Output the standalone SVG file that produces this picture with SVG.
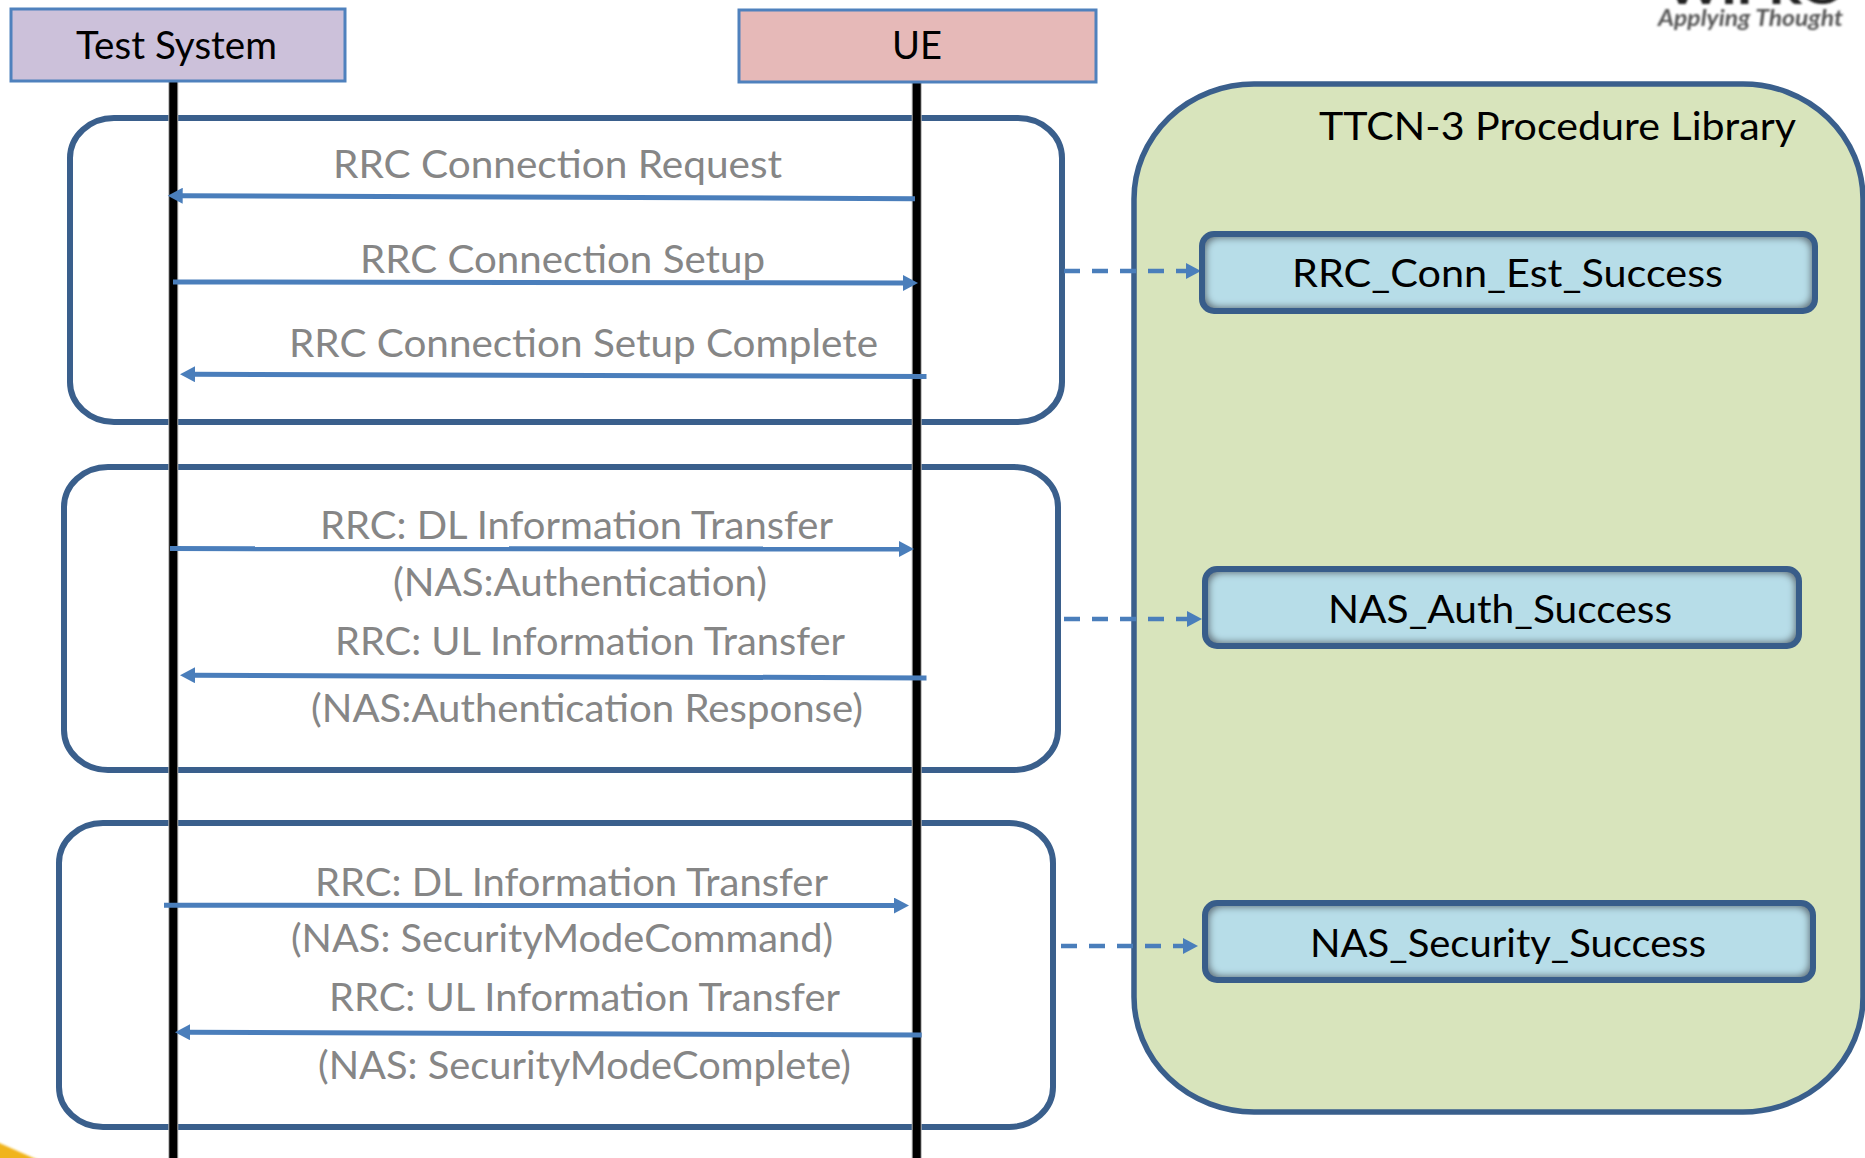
<svg xmlns="http://www.w3.org/2000/svg" width="1865" height="1158" viewBox="0 0 1865 1158">
<style>
text{font-family:"Lato","Open Sans","Liberation Sans",sans-serif;font-size:38px;}
.msg{fill:#868686;}
.blk{fill:#000;}
.grp{fill:none;stroke:#3a5f8c;stroke-width:6;}
.lib{fill:#d8e4bc;stroke:#3a5f8c;stroke-width:5.5;}
.proc{fill:#b7dde8;}
.procb{fill:none;stroke:#385d8a;stroke-width:6;}
.life{stroke:#000;stroke-width:8;fill:none;}
.arr{stroke:#4a7ebb;stroke-width:5;fill:none;marker-end:url(#tip);}
.dash{stroke:#4a7ebb;stroke-width:4.5;fill:none;stroke-dasharray:16 12;marker-end:url(#tip);}
</style>
<defs>
<marker id="tip" markerUnits="userSpaceOnUse" markerWidth="16" markerHeight="16" viewBox="0 0 15 16" refX="1" refY="8" orient="auto">
<path d="M0 0L15 8L0 16Z" fill="#4a7ebb"/>
</marker>
<filter id="inner" x="-5%" y="-15%" width="110%" height="130%">
<feMorphology in="SourceAlpha" operator="erode" radius="5" result="e"/>
<feGaussianBlur in="e" stdDeviation="3" result="b"/>
<feComposite in="SourceAlpha" in2="b" operator="out" result="edge"/>
<feFlood flood-color="#5a6670" flood-opacity="0.9"/>
<feComposite in2="edge" operator="in" result="sh"/>
<feMerge><feMergeNode in="SourceGraphic"/><feMergeNode in="sh"/></feMerge>
</filter>
<filter id="soft"><feGaussianBlur stdDeviation="0.9"/></filter>
<filter id="soft2" x="-30%" y="-30%" width="160%" height="160%"><feGaussianBlur stdDeviation="1.2"/></filter>
</defs>

<path d="M-5 1141L38 1160H-5Z" fill="#f0b41c" filter="url(#soft2)"/>

<g id="logo" filter="url(#soft)">
<text x="1667" y="4" font-weight="900" style="font-size:40px" fill="#222" textLength="176" lengthAdjust="spacingAndGlyphs">WIPRO</text>
<text x="1658" y="26" font-weight="700" font-style="italic" fill="#555" style="font-size:22px" textLength="185" lengthAdjust="spacingAndGlyphs">Applying Thought</text>
</g>

<g id="library">
<rect class="lib" x="1134" y="84" width="729" height="1028" rx="120" ry="115"/>
<text class="blk" x="1319" y="139.5" textLength="477" lengthAdjust="spacingAndGlyphs">TTCN-3 Procedure Library</text>
</g>

<g id="group-rrc"><rect class="grp" x="70" y="118" width="992" height="304" rx="44" ry="40"/></g>
<g id="group-auth"><rect class="grp" x="64" y="467" width="994" height="303" rx="44" ry="40"/></g>
<g id="group-security"><rect class="grp" x="59" y="823" width="994" height="304" rx="44" ry="40"/></g>

<g id="connectors">
<path d="M173.3 81V1158M916.7 81V1158" fill="none" stroke="#b0b0b0" stroke-width="10"/>
<path class="life" d="M173.3 81V1158"/>
<path class="life" d="M916.7 81V1158"/>
<path class="arr" d="M915 198.7L181.7 195.7"/>
<path class="arr" d="M173 282L904 283"/>
<path class="arr" d="M926.5 376.6L194 374.2"/>
<path class="arr" d="M170 548.6L900 549"/>
<path class="arr" d="M926.5 678L194 675.2"/>
<path class="arr" d="M164 905.3L895 905.6"/>
<path class="arr" d="M921.7 1035L189 1032.2"/>
<path class="dash" d="M1064 271H1187"/>
<path class="dash" d="M1064 619H1188"/>
<path class="dash" d="M1061 946H1184"/>
</g>

<g id="test-system">
<rect x="11" y="9" width="334" height="72" fill="#ccc1da" stroke="#4f81bd" stroke-width="3"/>
<text class="blk" x="76" y="58.5" textLength="201" lengthAdjust="spacingAndGlyphs">Test System</text>
</g>
<g id="ue">
<rect x="739" y="10" width="357" height="72" fill="#e6b9b8" stroke="#4f81bd" stroke-width="3"/>
<text class="blk" x="892" y="59" textLength="50" lengthAdjust="spacingAndGlyphs">UE</text>
</g>

<g id="labels">
<text class="msg" x="333" y="178" textLength="449" lengthAdjust="spacingAndGlyphs">RRC Connection Request</text>
<text class="msg" x="360" y="273" textLength="405" lengthAdjust="spacingAndGlyphs">RRC Connection Setup</text>
<text class="msg" x="289" y="356.5" textLength="589" lengthAdjust="spacingAndGlyphs">RRC Connection Setup Complete</text>
<text class="msg" x="320" y="538.5" textLength="513" lengthAdjust="spacingAndGlyphs">RRC: DL Information Transfer</text>
<text class="msg" x="393" y="595.5" textLength="374" lengthAdjust="spacingAndGlyphs">(NAS:Authentication)</text>
<text class="msg" x="335" y="654.5" textLength="510" lengthAdjust="spacingAndGlyphs">RRC: UL Information Transfer</text>
<text class="msg" x="311" y="721.5" textLength="552" lengthAdjust="spacingAndGlyphs">(NAS:Authentication Response)</text>
<text class="msg" x="315" y="895.6" textLength="513" lengthAdjust="spacingAndGlyphs">RRC: DL Information Transfer</text>
<text class="msg" x="291" y="952" textLength="542" lengthAdjust="spacingAndGlyphs">(NAS: SecurityModeCommand)</text>
<text class="msg" x="329" y="1011" textLength="511" lengthAdjust="spacingAndGlyphs">RRC: UL Information Transfer</text>
<text class="msg" x="318" y="1079" textLength="533" lengthAdjust="spacingAndGlyphs">(NAS: SecurityModeComplete)</text>
</g>

<g id="rrc-conn-est-success">
<rect class="proc" x="1202" y="234" width="613" height="77" rx="12" filter="url(#inner)"/>
<rect class="procb" x="1202" y="234" width="613" height="77" rx="12"/>
<text class="blk" x="1292" y="287" textLength="431" lengthAdjust="spacingAndGlyphs">RRC_Conn_Est_Success</text>
</g>
<g id="nas-auth-success">
<rect class="proc" x="1205" y="569" width="594" height="77" rx="12" filter="url(#inner)"/>
<rect class="procb" x="1205" y="569" width="594" height="77" rx="12"/>
<text class="blk" x="1328" y="623" textLength="344" lengthAdjust="spacingAndGlyphs">NAS_Auth_Success</text>
</g>
<g id="nas-security-success">
<rect class="proc" x="1205" y="903" width="608" height="77" rx="12" filter="url(#inner)"/>
<rect class="procb" x="1205" y="903" width="608" height="77" rx="12"/>
<text class="blk" x="1310" y="957" textLength="396" lengthAdjust="spacingAndGlyphs">NAS_Security_Success</text>
</g>
</svg>
